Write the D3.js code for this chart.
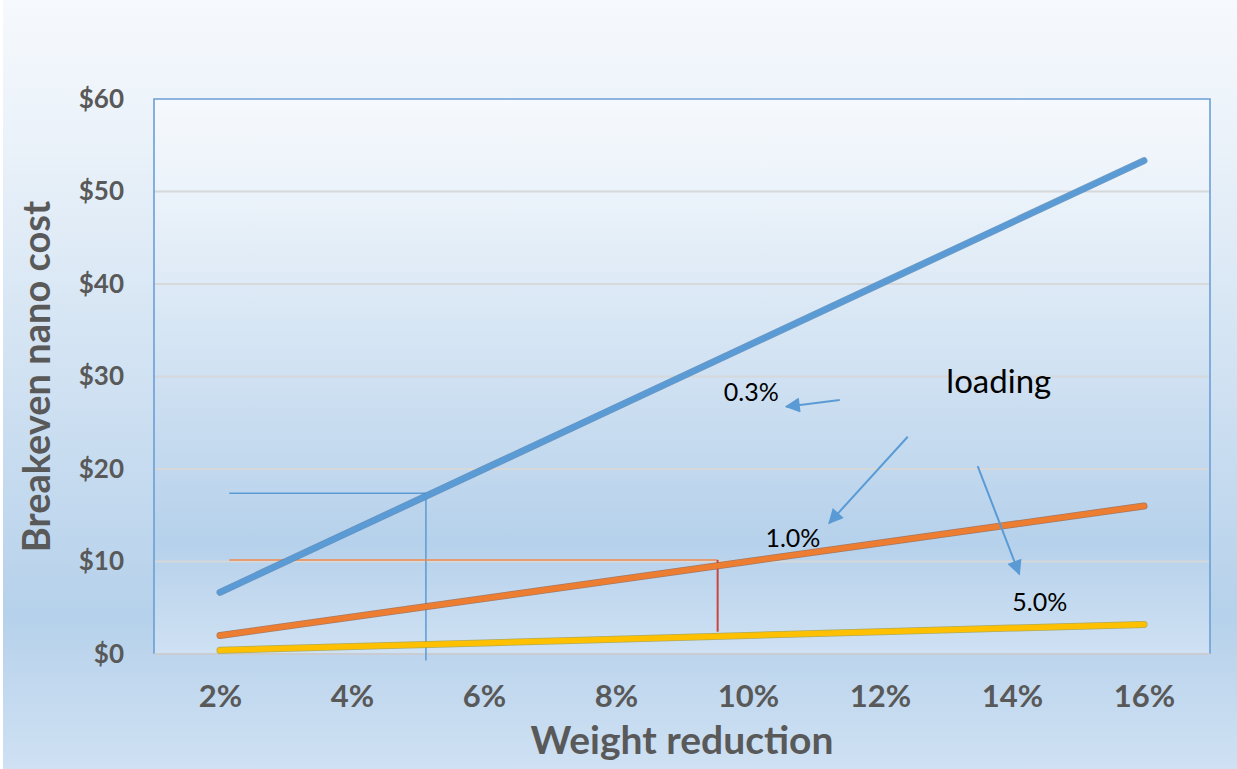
<!DOCTYPE html>
<html>
<head>
<meta charset="utf-8">
<script src="https://cdn.jsdelivr.net/npm/d3@7/dist/d3.min.js"></script>
<style>
  html, body { margin: 0; padding: 0; background: #ffffff; }
  svg { display: block; }
</style>
</head>
<body>
<svg id="chart" width="1237" height="769"></svg>
<script>
// Breakeven nano cost versus weight reduction, for three nano loadings
const weightCategories = ["2%", "4%", "6%", "8%", "10%", "12%", "14%", "16%"];
const weightValues = [2, 4, 6, 8, 10, 12, 14, 16];
const costLoading03 = [6.67, 13.33, 20, 26.67, 33.33, 40, 46.67, 53.33];
const costLoading10 = [2, 4, 6, 8, 10, 12, 14, 16];
const costLoading50 = [0.4, 0.8, 1.2, 1.6, 2, 2.4, 2.8, 3.2];
const yTickValues = [0, 10, 20, 30, 40, 50, 60];
const yTickLabels = ["$0", "$10", "$20", "$30", "$40", "$50", "$60"];

// Read-off guides: [weight %, cost $] end points
const guide03Horizontal = [[2.14, 17.37], [5.12, 17.37]];
const guide03Vertical = [[5.12, 17.37], [5.12, -0.7]];
const guide10Horizontal = [[2.14, 10.16], [9.54, 10.16]];
const guide10Vertical = [[9.54, 10.16], [9.54, 2.41]];

// Callout arrows from the "loading" note: [start, tip]
const arrowPoints = [
  [[11.39, 27.46], [10.58, 26.74]],
  [[12.42, 23.49], [11.23, 14.16]],
  [[13.48, 20.32], [14.11, 8.65]]
];
// Text notes and their anchor points [weight %, cost $]
const noteLabels = ["loading", "0.3%", "1.0%", "5.0%"];
const notePositions = [[13.8, 28.22], [10.05, 27.35], [10.68, 11.57], [14.42, 4.65]];

const W = 1237, H = 769;
const plot = { left: 154, right: 1210, top: 99, bottom: 654 };

const svg = d3.select("#chart");
const defs = svg.append("defs");

function addGradient(id) {
  const g = defs.append("linearGradient").attr("id", id)
    .attr("x1", 0).attr("y1", 0).attr("x2", 0).attr("y2", 1);
  g.append("stop").attr("offset", "0%").attr("stop-color", "#f6f9fd");
  g.append("stop").attr("offset", "20%").attr("stop-color", "#e9f1f9");
  g.append("stop").attr("offset", "80%").attr("stop-color", "#b6d1eb");
  g.append("stop").attr("offset", "100%").attr("stop-color", "#cfe1f3");
}
addGradient("bgGrad");
addGradient("plotGrad");

defs.append("marker").attr("id", "arrowHead")
  .attr("viewBox", "0 0 10 10").attr("refX", 9).attr("refY", 5)
  .attr("markerWidth", 8).attr("markerHeight", 7.5)
  .attr("markerUnits", "strokeWidth")
  .attr("orient", "auto")
  .append("path").attr("d", "M0,0 L10,5 L0,10 Z").attr("fill", "#5b9bd5");

// Chart background
svg.append("rect").attr("x", 3).attr("y", 0).attr("width", W - 3).attr("height", H)
  .attr("fill", "url(#bgGrad)");

// Plot area background
svg.append("rect").attr("x", plot.left).attr("y", plot.top)
  .attr("width", plot.right - plot.left).attr("height", plot.bottom - plot.top)
  .attr("fill", "url(#plotGrad)");

const x = d3.scalePoint().domain(weightCategories).range([plot.left, plot.right]).padding(0.5);
const xw = d3.scaleLinear().domain([2, 16]).range([x("2%"), x("16%")]);
const y = d3.scaleLinear().domain([0, 60]).range([plot.bottom, plot.top]);

// Gridlines
svg.append("g").selectAll("line").data(yTickValues.filter(v => v > 0 && v < 60)).join("line")
  .attr("x1", plot.left).attr("x2", plot.right)
  .attr("y1", d => y(d)).attr("y2", d => y(d))
  .attr("stroke", "#d6d8da").attr("stroke-width", 2);

// Plot border: blue on top and sides, grey category axis along the bottom
svg.append("path")
  .attr("d", `M${plot.left},${plot.bottom} V${plot.top} H${plot.right} V${plot.bottom}`)
  .attr("fill", "none").attr("stroke", "#6a9fd6").attr("stroke-width", 1.6);
svg.append("line").attr("x1", plot.left).attr("x2", plot.right)
  .attr("y1", plot.bottom).attr("y2", plot.bottom)
  .attr("stroke", "#c9cdd2").attr("stroke-width", 2);

// Y axis tick labels
const yAxis = d3.axisLeft(y).tickValues(yTickValues)
  .tickFormat((d, i) => yTickLabels[i]).tickSize(0).tickPadding(30);
const yg = svg.append("g").attr("transform", `translate(${plot.left},0)`).call(yAxis);
yg.select(".domain").remove();
yg.selectAll("text").attr("font-family", "Lato, sans-serif").attr("font-weight", "bold")
  .attr("font-size", 26).attr("fill", "#595959");

// X axis tick labels
const xAxis = d3.axisBottom(x).tickSize(0).tickPadding(31);
const xg = svg.append("g").attr("transform", `translate(0,${plot.bottom})`).call(xAxis);
xg.select(".domain").remove();
xg.selectAll("text").attr("font-family", "Lato, sans-serif").attr("font-weight", "bold")
  .attr("font-size", 31).attr("fill", "#595959");

// Axis titles
svg.append("text").attr("x", (plot.left + plot.right) / 2).attr("y", 754)
  .attr("text-anchor", "middle").attr("font-family", "Lato, sans-serif")
  .attr("font-weight", "bold").attr("font-size", 39).attr("fill", "#595959")
  .text("Weight reduction");
svg.append("text")
  .attr("transform", `translate(50,${(plot.top + plot.bottom) / 2}) rotate(-90)`)
  .attr("text-anchor", "middle").attr("font-family", "Lato, sans-serif")
  .attr("font-weight", "bold").attr("font-size", 38).attr("fill", "#595959")
  .text("Breakeven nano cost");

// Read-off guide lines
const guideLine = d3.line().x(d => xw(d[0])).y(d => y(d[1]));
svg.append("path").attr("d", guideLine(guide03Horizontal)).attr("stroke", "#5b9bd5").attr("stroke-width", 1.5).attr("fill", "none");
svg.append("path").attr("d", guideLine(guide03Vertical)).attr("stroke", "#5b9bd5").attr("stroke-width", 1.5).attr("fill", "none");
svg.append("path").attr("d", guideLine(guide10Horizontal)).attr("stroke", "#f08a4b").attr("stroke-width", 1.5).attr("fill", "none");
svg.append("path").attr("d", guideLine(guide10Vertical)).attr("stroke", "#c9453f").attr("stroke-width", 2).attr("fill", "none");

// Series lines
const series = [
  { values: costLoading50, color: "#ffc000", edge: "#a39a2c" },
  { values: costLoading10, color: "#ed7d31", edge: "#9c5a35" },
  { values: costLoading03, color: "#5b9bd5", edge: "#4a7fb0" }
];
const seriesLine = d3.line().x((d, i) => x(weightCategories[i])).y(d => y(d));
series.forEach(s => {
  svg.append("path").attr("d", seriesLine(s.values)).attr("fill", "none")
    .attr("stroke", s.edge).attr("stroke-width", 7).attr("stroke-linecap", "round").attr("opacity", 0.75);
  svg.append("path").attr("d", seriesLine(s.values)).attr("fill", "none")
    .attr("stroke", s.color).attr("stroke-width", 5.5).attr("stroke-linecap", "round");
});

// Callout arrows
svg.append("g").selectAll("line").data(arrowPoints).join("line")
  .attr("x1", d => xw(d[0][0])).attr("y1", d => y(d[0][1]))
  .attr("x2", d => xw(d[1][0])).attr("y2", d => y(d[1][1]))
  .attr("stroke", "#5b9bd5").attr("stroke-width", 2)
  .attr("marker-end", "url(#arrowHead)");

// Text notes
const noteSizes = [33, 25, 25, 25];
svg.append("g").selectAll("text").data(noteLabels).join("text")
  .attr("x", (d, i) => xw(notePositions[i][0]))
  .attr("y", (d, i) => y(notePositions[i][1]))
  .attr("text-anchor", "middle").attr("font-family", "Lato, sans-serif")
  .attr("font-size", (d, i) => noteSizes[i]).attr("fill", "#000000")
  .text(d => d);
</script>
</body>
</html>
